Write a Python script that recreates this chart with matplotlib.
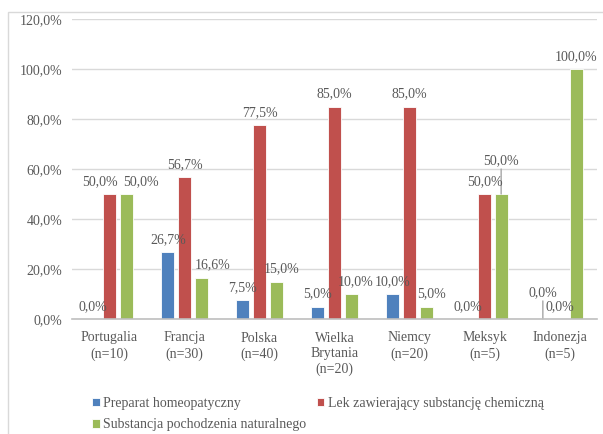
import numpy as np
import matplotlib.pyplot as plt
from matplotlib.patches import Rectangle

plt.rcParams['font.family'] = ['Liberation Serif', 'DejaVu Serif']

# Dane: odsetek odpowiedzi w poszczególnych krajach
kraje = ["Portugalia\n(n=10)", "Francja\n(n=30)", "Polska\n(n=40)",
         "Wielka\nBrytania\n(n=20)", "Niemcy\n(n=20)", "Meksyk\n(n=5)",
         "Indonezja\n(n=5)"]
homeopatyczny = [0.0, 26.7, 7.5, 5.0, 10.0, 0.0, 0.0]
chemiczny = [50.0, 56.7, 77.5, 85.0, 85.0, 50.0, 0.0]
naturalny = [50.0, 16.6, 15.0, 10.0, 5.0, 50.0, 100.0]

serie = [
    ("Preparat homeopatyczny", homeopatyczny, "#4f81bd"),
    ("Lek zawierający substancję chemiczną", chemiczny, "#c0504d"),
    ("Substancja pochodzenia naturalnego", naturalny, "#9bbb59"),
]

# przesunięcia etykiet (seria, kraj) -> (dx, dy) w punktach, z linią odniesienia gdy dy > 0
przesuniecia = {
    (1, 0): (-7, 0), (2, 0): (11, 0),
    (2, 1): (8, 0), (2, 2): (4, 0), (2, 3): (3, 0), (2, 4): (4, 0),
    (2, 5): (0, 15), (0, 6): (0, 10),
}

SZARY = "#595959"
fmt = lambda v: f"{v:.1f}%".replace(".", ",")

fig = plt.figure(figsize=(6.03, 4.34), dpi=100)
ax = fig.add_axes([72 / 603, 1 - 319 / 434, 525 / 603, 300 / 434])

# ramka wykresu
fig.patches.append(Rectangle((8 / 603, -0.1), 1.2, 1.1 - 12 / 434,
                             transform=fig.transFigure, fill=False,
                             edgecolor="#d9d9d9", linewidth=1.0))

x = np.arange(len(kraje))
szer = 0.175
krok = 0.222

for i, (nazwa, wart, kolor) in enumerate(serie):
    pos = x + (i - 1) * krok
    ax.bar(pos, wart, width=szer, color=kolor, edgecolor="white",
           linewidth=0.6, label=nazwa, zorder=3)
    for j, (px, v) in enumerate(zip(pos, wart)):
        dx, dy = przesuniecia.get((i, j), (0, 0))
        ax.annotate(fmt(v), xy=(px, v), xytext=(dx, 9 + dy),
                    textcoords="offset points", ha="center", va="center",
                    fontsize=10, color=SZARY, zorder=4)
        if dy > 0:
            ax.annotate("", xy=(px, v), xytext=(0, dy + 3),
                        textcoords="offset points",
                        arrowprops=dict(arrowstyle="-", color="#a6a6a6",
                                        lw=1.0, shrinkA=0, shrinkB=0))

ax.set_xlim(-0.5, len(kraje) - 0.5)
ax.set_ylim(0, 120)
ax.set_yticks(np.arange(0, 121, 20))
ax.set_yticklabels([fmt(t) for t in np.arange(0, 121, 20)])
ax.set_xticks(x)
ax.set_xticklabels(kraje, linespacing=1.25)
ax.tick_params(axis="both", length=0, labelsize=10, colors=SZARY)
ax.tick_params(axis="y", pad=7)
ax.tick_params(axis="x", pad=9)
ax.grid(axis="y", color="#d9d9d9", linewidth=1.0, zorder=0)
for s in ["top", "right", "left"]:
    ax.spines[s].set_visible(False)
ax.spines["bottom"].set_color("#bfbfbf")
ax.spines["bottom"].set_linewidth(1.2)
ax.spines["bottom"].set_zorder(5)

uchwyty, etykiety = ax.get_legend_handles_labels()
kolejnosc = [0, 2, 1]
leg = fig.legend([uchwyty[k] for k in kolejnosc], [etykiety[k] for k in kolejnosc],
                 ncol=2, loc="upper left", bbox_to_anchor=(85 / 603, 1 - 390 / 434),
                 frameon=False, fontsize=10, handlelength=0.55, handleheight=0.55,
                 handletextpad=0.25, columnspacing=0.75, labelspacing=0.6,
                 borderpad=0, labelcolor=SZARY)

fig.savefig("out.png", dpi=100)
